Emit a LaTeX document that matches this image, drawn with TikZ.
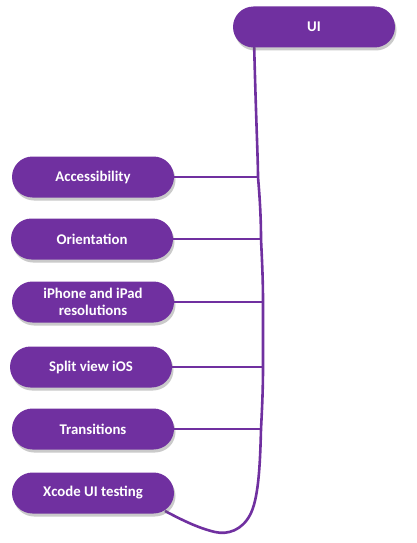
\documentclass[tikz,border=0pt]{standalone}
\usepackage{fontspec}
\setmainfont{Carlito}
\usetikzlibrary{shadows}
\definecolor{uipurple}{HTML}{7030A0}
\tikzset{
  pill/.style={draw=none, fill=uipurple, rounded corners=20.5pt, minimum width=162pt, minimum height=41pt,
    text=white, font=\fontsize{14.8}{17}\selectfont\bfseries, align=center, inner sep=2pt,
    drop shadow={shadow xshift=1.5pt, shadow yshift=-3pt, opacity=0.35, fill=black!60}},
  link/.style={draw=uipurple, line width=2.6pt}
}
\begin{document}
\begin{tikzpicture}[x=1pt,y=-1pt]
\useasboundingbox (0,0) rectangle (416,543);
% spine coordinates
\coordinate (s0) at (254,40);
\coordinate (j1) at (258,177);
\coordinate (j2) at (261,239);
\coordinate (j3) at (263,302);
\coordinate (j4) at (263,367);
\coordinate (j5) at (261,429);
\draw[link] (s0) .. controls (256,120) and (258,160) .. (j1)
  .. controls (260,200) and (261,220) .. (j2)
  .. controls (262,260) and (263,280) .. (j3)
  -- (j4)
  .. controls (263,390) and (262,410) .. (j5)
  .. controls (260,470) and (258,500) .. (250,515)
  .. controls (242,530) and (228,535) .. (215,532)
  .. controls (198,528) and (182,520) .. (165,511);
\node[pill] (ui) at (314,27) {UI};
\node[pill] (acc) at (93,177) {Accessibility};
\node[pill] (ori) at (92,239) {Orientation};
\node[pill] (iph) at (93,302) {iPhone and iPad\\resolutions};
\node[pill] (spl) at (91,367) {Split view iOS};
\node[pill] (tra) at (93,429) {Transitions};
\node[pill] (xco) at (93,493) {Xcode UI testing};
\draw[link] (acc.east) -- (j1);
\draw[link] (ori.east) -- (j2);
\draw[link] (iph.east) -- (j3);
\draw[link] (spl.east) -- (j4);
\draw[link] (tra.east) -- (j5);
\end{tikzpicture}
\end{document}
